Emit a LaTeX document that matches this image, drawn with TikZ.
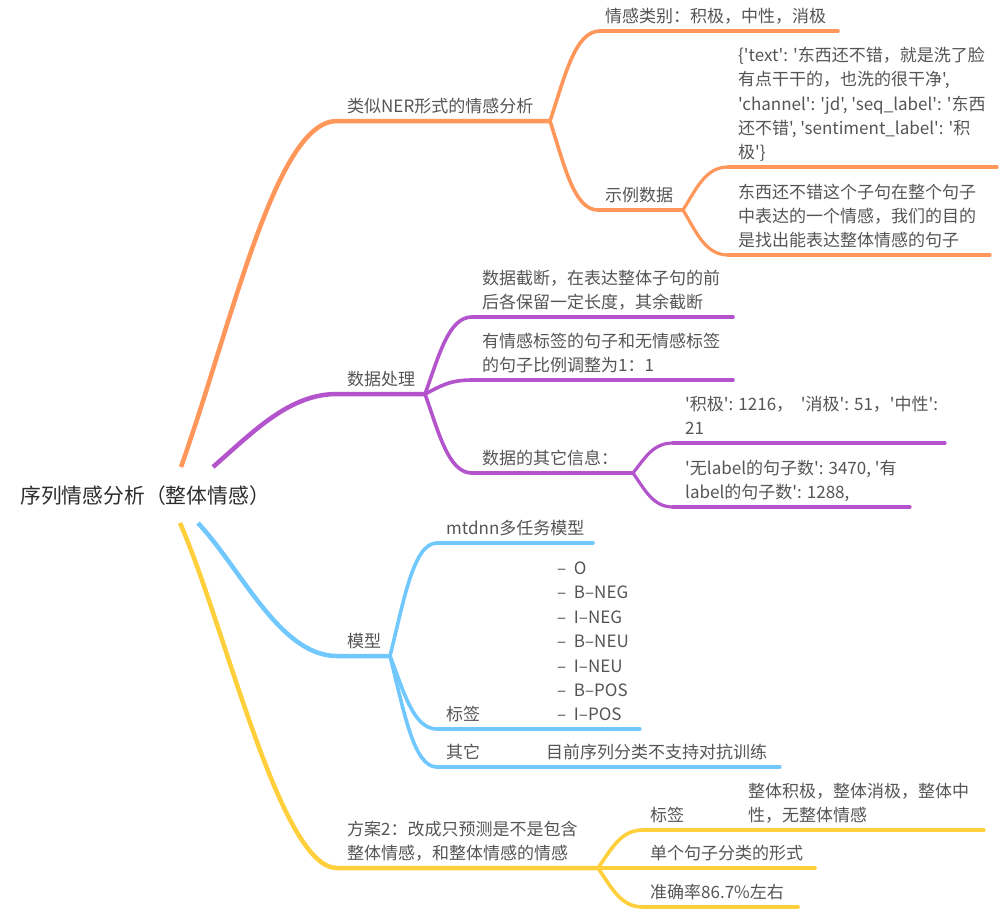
\documentclass[tikz,border=0pt]{standalone}
\usepackage{fontspec}
\newfontfamily\cjk{Noto Sans CJK SC}
\usetikzlibrary{calc}
\definecolor{orangeC}{RGB}{255,150,90}
\definecolor{purpleC}{RGB}{180,84,204}
\definecolor{blueC}{RGB}{112,200,255}
\definecolor{yellowC}{RGB}{255,207,60}
\definecolor{txtC}{RGB}{85,85,85}
\definecolor{rootC}{RGB}{45,45,45}
\newcommand\curv[3]{%
  \draw[#1] let \p1=(#2), \p2=(#3) in (#2) .. controls ({\x1+0.3*(\x2-\x1)},{\y1+0.5*(\y2-\y1)}) and ({\x1+0.5*(\x2-\x1)},{\y2}) .. (#3);}
\begin{document}
\begin{tikzpicture}[x=1pt,y=-1pt,
  lbl/.style={font=\cjk\fontsize{17}{24.4}\selectfont, text=txtC, inner sep=0pt, anchor=south west, text depth=0pt, align=left},
  rootlbl/.style={font=\cjk\fontsize{20.8}{24}\selectfont, text=rootC, inner sep=0pt, anchor=base west},
  b1/.style={line width=4.5pt, line cap=round},
  b2/.style={line width=3.6pt, line cap=round},
  b3/.style={line width=3.2pt, line cap=round}]
\useasboundingbox[fill=white] (0,0) rectangle (1000,911);

% root
\node[rootlbl] (root) at (20,503) {序列情感分析（整体情感）};
\coordinate (r-o) at (181,467);
\coordinate (r-p) at (213,467);
\coordinate (r-b) at (198,523);
\coordinate (r-y) at (180,523);

% ---------- orange ----------
\coordinate (ner-s) at (337,121); \coordinate (ner-e) at (550,121);
\draw[b1,orangeC,line cap=butt] (r-o) .. controls (233,320) and (276,121) .. (ner-s) -- (ner-e);
\node[lbl] (ner) at (347,113) {类似NER形式的情感分析};

\coordinate (cat-s) at (600,31); \coordinate (cat-e) at (838,31);
\curv{b2,orangeC}{ner-e}{cat-s}
\draw[b2,orangeC] (cat-s) -- (cat-e);
\node[lbl] (cat) at (605,23) {情感类别：积极，中性，消极};

\coordinate (ex-s) at (598,210); \coordinate (ex-e) at (683,210);
\curv{b2,orangeC}{ner-e}{ex-s}
\draw[b2,orangeC] (ex-s) -- (ex-e);
\node[lbl] (ex) at (605,202) {示例数据};

\coordinate (json-s) at (728,167); \coordinate (json-e) at (997,167);
\curv{b3,orangeC}{ex-e}{json-s}
\draw[b3,orangeC] (json-s) -- (json-e);
\node[lbl] (json) at (738,159) {\{'text': '东西还不错，就是洗了脸\\有点干干的，也洗的很干净',\\'channel': 'jd', 'seq\_label': '东西\\还不错', 'sentiment\_label': '积\\极'\}};

\coordinate (desc-s) at (728,255); \coordinate (desc-e) at (990,255);
\curv{b3,orangeC}{ex-e}{desc-s}
\draw[b3,orangeC] (desc-s) -- (desc-e);
\node[lbl] (desc) at (738,247) {东西还不错这个子句在整个句子\\中表达的一个情感，我们的目的\\是找出能表达整体情感的句子};

% ---------- purple ----------
\coordinate (dp-s) at (337,394); \coordinate (dp-e) at (425,394);
\draw[b1,purpleC,line cap=butt] (r-p) .. controls (255,430) and (290,394) .. (dp-s) -- (dp-e);
\node[lbl] (dp) at (347,386) {数据处理};

\coordinate (cut-s) at (472,317); \coordinate (cut-e) at (733,317);
\curv{b2,purpleC}{dp-e}{cut-s}
\draw[b2,purpleC] (cut-s) -- (cut-e);
\node[lbl] (cut) at (482,309) {数据截断，在表达整体子句的前\\后各保留一定长度，其余截断};

\coordinate (ratio-s) at (472,380); \coordinate (ratio-e) at (733,380);
\curv{b2,purpleC}{dp-e}{ratio-s}
\draw[b2,purpleC] (ratio-s) -- (ratio-e);
\node[lbl] (ratio) at (482,372) {有情感标签的句子和无情感标签\\的句子比例调整为1：1};

\coordinate (info-s) at (472,473); \coordinate (info-e) at (633,473);
\curv{b2,purpleC}{dp-e}{info-s}
\draw[b2,purpleC] (info-s) -- (info-e);
\node[lbl] (info) at (482,465) {数据的其它信息：};

\coordinate (cnt-s) at (673,443); \coordinate (cnt-e) at (945,443);
\curv{b3,purpleC}{info-e}{cnt-s}
\draw[b3,purpleC] (cnt-s) -- (cnt-e);
\node[lbl] (cnt) at (685,435) {'积极': 1216，\ \ '消极': 51，'中性':\\21};

\coordinate (lab-s) at (673,507); \coordinate (lab-e) at (910,507);
\curv{b3,purpleC}{info-e}{lab-s}
\draw[b3,purpleC] (lab-s) -- (lab-e);
\node[lbl] (lab) at (685,499) {'无label的句子数': 3470, '有\\label的句子数': 1288,};

% ---------- blue ----------
\coordinate (mdl-s) at (337,656); \coordinate (mdl-e) at (390,656);
\draw[b1,blueC,line cap=butt] (r-b) .. controls (242,570) and (280,656) .. (mdl-s) -- (mdl-e);
\node[lbl] (mdl) at (347,648) {模型};

\coordinate (mt-s) at (437,543); \coordinate (mt-e) at (593,543);
\curv{b2,blueC}{mdl-e}{mt-s}
\draw[b2,blueC] (mt-s) -- (mt-e);
\node[lbl] (mt) at (446,535) {mtdnn多任务模型};

\coordinate (tag-s) at (437,729); \coordinate (tag-m) at (490,729); \coordinate (tag-e) at (640,729);
\curv{b2,blueC}{mdl-e}{tag-s}
\draw[b2,blueC] (tag-s) -- (tag-m);
\draw[b3,blueC] (tag-m) -- (tag-e);
\node[lbl] (tag) at (446,721) {标签};
\node[lbl] (tags) at (557,721) {–\ \ O\\–\ \ B–NEG\\–\ \ I–NEG\\–\ \ B–NEU\\–\ \ I–NEU\\–\ \ B–POS\\–\ \ I–POS};

\coordinate (oth-s) at (437,767); \coordinate (oth-m) at (490,767); \coordinate (oth-e) at (780,767);
\curv{b2,blueC}{mdl-e}{oth-s}
\draw[b2,blueC] (oth-s) -- (oth-m);
\draw[b3,blueC] (oth-m) -- (oth-e);
\node[lbl] (oth) at (446,759) {其它};
\node[lbl] (adv) at (546,759) {目前序列分类不支持对抗训练};

% ---------- yellow ----------
\coordinate (plan-s) at (337,868); \coordinate (plan-e) at (598,868);
\draw[b1,yellowC,line cap=butt] (r-y) .. controls (225,625) and (280,868) .. (plan-s) -- (plan-e);
\node[lbl] (plan) at (347,860) {方案2：改成只预测是不是包含\\整体情感，和整体情感的情感};

\coordinate (ytag-s) at (643,830); \coordinate (ytag-m) at (690,830); \coordinate (ytag-e) at (984,830);
\curv{b2,yellowC}{plan-e}{ytag-s}
\draw[b2,yellowC] (ytag-s) -- (ytag-m);
\draw[b3,yellowC] (ytag-m) -- (ytag-e);
\node[lbl] (ytag) at (650,822) {标签};
\node[lbl] (ytags) at (748,822) {整体积极，整体消极，整体中\\性，无整体情感};

\coordinate (single-s) at (643,868); \coordinate (single-e) at (815,868);
\draw[b2,yellowC] (plan-e) -- (single-s) -- (single-e);
\node[lbl] (single) at (650,860) {单个句子分类的形式};

\coordinate (acc-s) at (643,907); \coordinate (acc-e) at (798,907);
\curv{b2,yellowC}{plan-e}{acc-s}
\draw[b2,yellowC] (acc-s) -- (acc-e);
\node[lbl] (acc) at (650,899) {准确率86.7\%左右};
\end{tikzpicture}
\end{document}
